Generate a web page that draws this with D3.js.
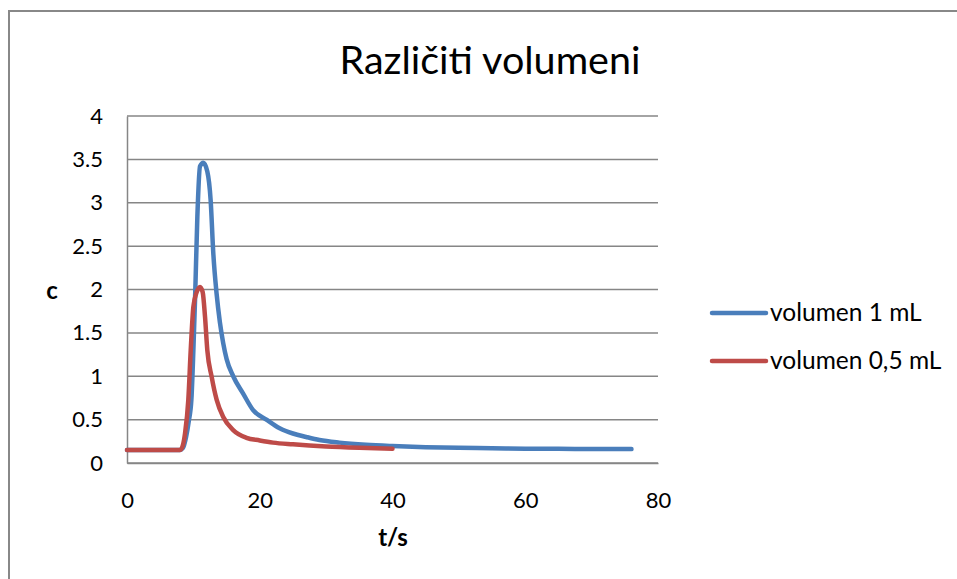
<!DOCTYPE html>
<head>
<meta charset="utf-8">
<style>
body { margin: 0; background: #fff; }
text { font-family: Lato, "Open Sans", sans-serif; fill: #000; }
.grid line { stroke: #868686; stroke-width: 1.5px; }
.line { fill: none; stroke-width: 4.5px; stroke-linecap: round; stroke-linejoin: round; }
</style>
</head>
<body>
<script src="https://cdn.jsdelivr.net/npm/d3@7"></script>
<script>

// the data
var seriesNames = ["volumen 1 mL", "volumen 0,5 mL"];
var seriesColors = ["#4a7ebb", "#be4b48"];

var t1 = [0, 2, 4, 6, 8, 8.4, 8.9, 9.3, 9.7, 10.0, 10.25, 10.6, 11.0, 11.5, 12.1, 12.6, 13.0, 13.5, 14.0, 14.5, 15.0, 16.0, 17.5, 19.0, 21.0, 23.0, 25.0, 27.0, 29.0, 32, 36, 40, 45, 50, 55, 60, 65, 70, 76];
var c1 = [0.15, 0.15, 0.15, 0.15, 0.15, 0.17, 0.3, 0.48, 0.73, 1.3, 1.88, 2.84, 3.42, 3.46, 3.36, 3.03, 2.42, 1.95, 1.62, 1.38, 1.2, 1.0, 0.8, 0.61, 0.5, 0.4, 0.34, 0.3, 0.265, 0.235, 0.21, 0.195, 0.182, 0.175, 0.17, 0.165, 0.163, 0.162, 0.16];

var t2 = [0, 2, 4, 6, 8, 8.4, 8.74, 9.24, 9.6, 10.0, 10.5, 11.0, 11.4, 11.75, 12.1, 12.75, 13.5, 14.5, 16.0, 18.0, 20.0, 22.0, 25.0, 30.0, 35.0, 40.0];
var c2 = [0.15, 0.15, 0.15, 0.15, 0.15, 0.2, 0.34, 0.73, 1.3, 1.8, 1.97, 2.03, 1.97, 1.69, 1.3, 0.995, 0.73, 0.53, 0.38, 0.29, 0.26, 0.235, 0.215, 0.19, 0.175, 0.165];

var xTicks = [0, 20, 40, 60, 80];
var yTicks = [0, 0.5, 1, 1.5, 2, 2.5, 3, 3.5, 4];

var W = 957, H = 579;
var plot = {left: 127, right: 658, top: 116, bottom: 463};

var x = d3.scaleLinear().domain([0, 80]).range([plot.left, plot.right]);
var y = d3.scaleLinear().domain([0, 4]).range([plot.bottom, plot.top]);

var svg = d3.select("body").append("svg")
    .attr("width", W)
    .attr("height", H);

// chart frame
svg.append("rect")
    .attr("x", 9).attr("y", 11)
    .attr("width", W + 10).attr("height", H + 10)
    .attr("fill", "none")
    .attr("stroke", "#888")
    .attr("stroke-width", 2);

// title
svg.append("text")
    .attr("x", 490).attr("y", 74)
    .attr("text-anchor", "middle")
    .style("font-size", "39.5px")
    .text("Različiti volumeni");

// horizontal gridlines
svg.append("g")
    .attr("class", "grid")
    .selectAll("line")
    .data(yTicks)
    .enter().append("line")
    .attr("x1", plot.left).attr("x2", plot.right)
    .attr("y1", function(d) { return y(d); })
    .attr("y2", function(d) { return y(d); });

// y axis
var yAxis = svg.append("g")
    .attr("transform", "translate(" + plot.left + ",0)")
    .call(d3.axisLeft(y).tickValues(yTicks).tickSize(0).tickPadding(24)
      .tickFormat(function(d) { return d; }));
yAxis.select(".domain").attr("stroke", "#868686").attr("stroke-width", 1.5);
yAxis.selectAll("text").style("font-size", "22px").style("font-family", "Lato, sans-serif");

// x axis
var xAxis = svg.append("g")
    .attr("transform", "translate(0," + plot.bottom + ")")
    .call(d3.axisBottom(x).tickValues(xTicks).tickSize(0).tickPadding(29));
xAxis.select(".domain").attr("stroke", "#868686").attr("stroke-width", 1.5);
xAxis.selectAll("text").style("font-size", "22px").style("font-family", "Lato, sans-serif");

// axis titles
svg.append("text")
    .attr("x", 393).attr("y", 546)
    .attr("text-anchor", "middle")
    .style("font-size", "24px").style("font-weight", "bold")
    .text("t/s");

svg.append("text")
    .attr("x", 52).attr("y", 299)
    .attr("text-anchor", "middle")
    .style("font-size", "24px").style("font-weight", "bold")
    .text("c");

// lines
var line = d3.line()
    .x(function(d) { return x(d[0]); })
    .y(function(d) { return y(d[1]); })
    .curve(d3.curveMonotoneX);

var series = [d3.zip(t1, c1), d3.zip(t2, c2)];

svg.selectAll(".line")
    .data(series)
    .enter().append("path")
    .attr("class", "line")
    .attr("stroke", function(d, i) { return seriesColors[i]; })
    .attr("d", line);

// legend
var legend = svg.selectAll(".legend")
    .data(seriesNames)
    .enter().append("g")
    .attr("class", "legend")
    .attr("transform", function(d, i) { return "translate(712," + (313 + i * 48) + ")"; });

legend.append("line")
    .attr("x1", 0).attr("x2", 54)
    .attr("stroke", function(d, i) { return seriesColors[i]; })
    .attr("stroke-width", 4.5)
    .attr("stroke-linecap", "round");

legend.append("text")
    .attr("x", 58).attr("y", 8)
    .style("font-size", "24.5px")
    .text(function(d) { return d; });

</script>
</body>
